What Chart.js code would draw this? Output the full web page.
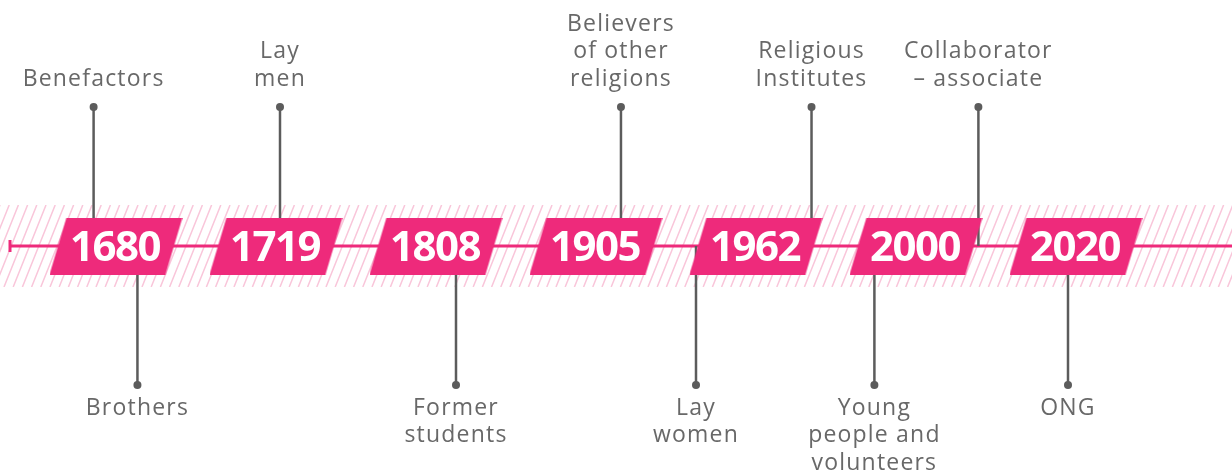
<!DOCTYPE html>
<html>
<head>
<meta charset="utf-8">
<script src="https://cdn.jsdelivr.net/npm/chart.js@4.4.1/dist/chart.umd.min.js"></script>
<style>
  html, body { margin: 0; padding: 0; background: #fff; }
  #wrap { width: 1232px; height: 471px; }
</style>
</head>
<body>
<div id="wrap"><canvas id="timeline" width="1232" height="471"></canvas></div>
<script>
// Timeline of membership milestones

const years = ['1680', '1719', '1808', '1905', '1962', '2000', '2020'];

// labels above the line (one per year slot, '' = none)
const topLabels = ['Benefactors', 'Lay\nmen', '', 'Believers\nof other\nreligions', 'Religious\nInstitutes', 'Collaborator\n– associate', ''];
// stem positions, in year-slot units
const topStemX = [-0.14, 1.025, null, 3.156, 4.347, 5.39, null];

// labels below the line
const bottomLabels = ['Brothers', '', 'Former\nstudents', '', 'Lay\nwomen', 'Young\npeople and\nvolunteers', 'ONG'];
const bottomStemX = [0.134, null, 2.125, null, 3.625, 4.74, 5.95];

const pink = '#ee2a7b';
const grey = '#5c5c5c';
const stemLen = 139;

// parallelogram used as the point style of each year
function makeBox() {
  const w = 116, h = 57, skew = 17;
  const c = document.createElement('canvas');
  c.width = w + skew;
  c.height = h;
  const g = c.getContext('2d');
  g.fillStyle = pink;
  g.beginPath();
  g.moveTo(skew, 0);
  g.lineTo(w + skew, 0);
  g.lineTo(w, h);
  g.lineTo(0, h);
  g.closePath();
  g.fill();
  return c;
}

const stemSets = [];
topStemX.forEach((x, i) => {
  if (x === null) return;
  stemSets.push({ x: x, y: stemLen, label: topLabels[i], up: true });
});
bottomStemX.forEach((x, i) => {
  if (x === null) return;
  stemSets.push({ x: x, y: -stemLen, label: bottomLabels[i], up: false });
});

const datasets = [];
datasets.push({
  type: 'scatter',
  data: years.map((y, i) => ({ x: i, y: 0 })),
  pointStyle: makeBox(),
  pointRadius: 10,
  order: 0
});
stemSets.forEach(s => {
  datasets.push({
    type: 'line',
    data: [{ x: s.x, y: 0 }, { x: s.x, y: s.y }],
    borderColor: grey,
    borderWidth: 2.5,
    pointRadius: [0, 4],
    pointBackgroundColor: grey,
    pointBorderWidth: 0,
    order: 1
  });
});
datasets.push({
  type: 'line',
  data: [{ x: -0.6625, y: 0 }, { x: 7, y: 0 }],
  borderColor: pink,
  borderWidth: 3,
  pointStyle: 'line',
  rotation: 90,
  pointRadius: [6, 0],
  pointBorderColor: pink,
  pointBorderWidth: 3,
  order: 2
});

const hatchPlugin = {
  id: 'hatch',
  beforeDatasetsDraw(chart) {
    const { ctx, chartArea, scales } = chart;
    const top = scales.y.getPixelForValue(41);
    const bot = scales.y.getPixelForValue(-41);
    ctx.save();
    ctx.beginPath();
    ctx.rect(chartArea.left, top, chartArea.right - chartArea.left, bot - top);
    ctx.clip();
    ctx.strokeStyle = '#f9c6da';
    ctx.lineWidth = 1.5;
    const dx = (bot - top) * 0.4;
    for (let x = chartArea.left - dx; x < chartArea.right + dx; x += 9.2) {
      ctx.beginPath();
      ctx.moveTo(x, bot);
      ctx.lineTo(x + dx, top);
      ctx.stroke();
    }
    ctx.restore();
  }
};

const textPlugin = {
  id: 'texts',
  afterDatasetsDraw(chart) {
    const { ctx, scales } = chart;
    ctx.save();
    ctx.textAlign = 'center';
    ctx.textBaseline = 'middle';
    // years
    ctx.fillStyle = '#ffffff';
    ctx.font = 'bold 42px "Open Sans"';
    ctx.letterSpacing = '-1.5px';
    years.forEach((y, i) => {
      ctx.fillText(y, scales.x.getPixelForValue(i) - 1, scales.y.getPixelForValue(-3));
    });
    // labels
    ctx.fillStyle = '#686868';
    ctx.font = '23px "Open Sans"';
    ctx.letterSpacing = '1.2px';
    const lh = 27.5;
    stemSets.forEach(s => {
      const lines = s.label.split('\n');
      const px = scales.x.getPixelForValue(s.x);
      lines.forEach((ln, k) => {
        let py;
        if (s.up) {
          py = scales.y.getPixelForValue(167) - (lines.length - 1 - k) * lh;
        } else {
          py = scales.y.getPixelForValue(-162) + k * lh;
        }
        ctx.fillText(ln, px, py);
      });
    });
    ctx.restore();
  }
};

new Chart(document.getElementById('timeline'), {
  data: { datasets: datasets },
  options: {
    responsive: false,
    animation: false,
    layout: { padding: 0, autoPadding: false },
    scales: {
      x: { type: 'linear', min: -0.725, max: 6.975, display: false },
      y: { type: 'linear', min: -225, max: 246, display: false }
    },
    plugins: {
      legend: { display: false },
      tooltip: { enabled: false }
    }
  },
  plugins: [hatchPlugin, textPlugin]
});
</script>
</body>
</html>
